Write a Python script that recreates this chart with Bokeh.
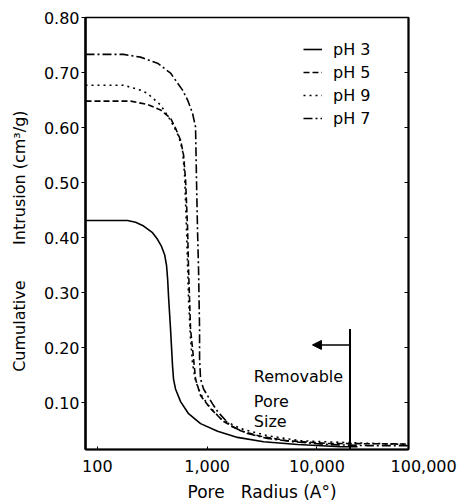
from bokeh.plotting import figure
from bokeh.models import (Range1d, FixedTicker, LinearAxis, Arrow, NormalHead, Label, Title,
                          Legend, LegendItem, CustomJSTickFormatter)
from bokeh.embed import file_html
from bokeh.resources import INLINE

FONT = "DejaVu Sans"

# ---- data (pore radius in Angstrom, cumulative intrusion cm3/g) ----
ph3_x = [78, 188, 223, 264, 318, 353, 384, 410, 427, 437, 445, 464, 484, 494, 515, 573, 677, 871, 1245, 1892, 3268, 6663, 16400, 23400]
ph3_y = [0.431, 0.431, 0.428, 0.421, 0.409, 0.397, 0.384, 0.369, 0.349, 0.324, 0.293, 0.234, 0.167, 0.143, 0.125, 0.102, 0.080, 0.062, 0.048, 0.037, 0.029, 0.024, 0.020, 0.020]

ph5_x = [78, 201, 286, 376, 464, 515, 573, 610, 636, 664, 677, 706, 752, 784, 835, 871, 1075, 1412, 2015, 3066, 5405, 12500, 68000]
ph5_y = [0.648, 0.648, 0.642, 0.632, 0.617, 0.599, 0.577, 0.550, 0.505, 0.415, 0.342, 0.234, 0.180, 0.143, 0.125, 0.113, 0.089, 0.066, 0.049, 0.039, 0.031, 0.026, 0.025]

ph9_x = [78, 173, 247, 286, 376, 445, 494, 548, 597, 623, 649, 677, 706, 736, 784, 871, 1030, 1325, 2015, 3550, 7000, 16400, 68000]
ph9_y = [0.677, 0.677, 0.668, 0.662, 0.641, 0.619, 0.603, 0.585, 0.559, 0.514, 0.415, 0.288, 0.216, 0.171, 0.140, 0.116, 0.095, 0.071, 0.053, 0.040, 0.031, 0.028, 0.024]

ph7_x = [78, 173, 247, 353, 464, 597, 664, 736, 784, 800, 817, 835, 853, 853, 871, 927, 1008, 1120, 1245, 1634, 2334, 3550, 6120, 12500, 28900, 68000]
ph7_y = [0.733, 0.733, 0.728, 0.717, 0.699, 0.668, 0.650, 0.626, 0.601, 0.505, 0.415, 0.342, 0.234, 0.180, 0.143, 0.125, 0.113, 0.098, 0.084, 0.058, 0.044, 0.035, 0.029, 0.024, 0.022, 0.022]

series_labels = ["pH 3", "pH 5", "pH 9", "pH 7"]

x_ticks = [100, 1000, 10000, 68000]
x_tick_labels = ["100", "1,000", "10,000", "\u00a0\u00a0\u00a0\u00a0\u00a0\u00a0100,000"]
y_ticks = [0.10, 0.20, 0.30, 0.40, 0.50, 0.60, 0.70, 0.80]
y_tick_labels = ["0.10", "0.20", "0.30", "0.40", "0.50", "0.60", "0.70", "0.80"]

removable_x = 20000
removable_top = 0.234
arrow_y = 0.205
arrow_tip_x = 9100
note_x = 2660
note_lines = ["Removable", "Pore", "Size"]
note_y = [0.147, 0.102, 0.066]

X_LO, X_HI = 78, 68200
Y_LO, Y_HI = 0.015, 0.80

p = figure(width=470, height=502, x_axis_type="log",
           x_range=Range1d(X_LO, X_HI), y_range=Range1d(Y_LO, Y_HI),
           output_backend="svg", toolbar_location=None,
           min_border_left=85, min_border_right=62, min_border_top=17, min_border_bottom=51)
p.grid.visible = False
p.background_fill_color = "white"
p.border_fill_color = "white"
p.outline_line_color = "black"
p.outline_line_width = 1.5

# x axis
xa = p.xaxis[0]
xa.ticker = FixedTicker(ticks=x_ticks, minor_ticks=[])
xa.major_label_overrides = dict(zip(x_ticks, x_tick_labels))
xa.axis_line_width = 2
xa.major_tick_in = 3
xa.major_tick_out = 0
xa.minor_tick_line_color = None
xa.major_label_standoff = 7
xa.major_label_text_font = FONT
xa.major_label_text_font_size = "16px"
xa.major_label_text_color = "black"

# y axis
ya = p.yaxis[0]
ya.ticker = FixedTicker(ticks=y_ticks, minor_ticks=[])
ya.major_label_overrides = dict(zip(y_ticks, y_tick_labels))
ya.axis_line_width = 2.5
ya.major_tick_in = 0
ya.major_tick_out = 4
ya.minor_tick_line_color = None
ya.major_label_standoff = 2
ya.major_label_text_font = FONT
ya.major_label_text_font_size = "16px"
ya.major_label_text_color = "black"
ya.axis_label = "Cumulative\u00a0\u00a0\u00a0\u00a0\u00a0\u00a0\u00a0Intrusion (cm\u00b3/g)\u00a0\u00a0\u00a0"
ya.axis_label_text_font = FONT
ya.axis_label_text_font_size = "16px"
ya.axis_label_text_font_style = "normal"
ya.axis_label_text_color = "black"
ya.axis_label_standoff = 12

# right axis with inward ticks only
ra = LinearAxis(ticker=FixedTicker(ticks=y_ticks, minor_ticks=[]),
                formatter=CustomJSTickFormatter(code="return ''"))
ra.axis_line_width = 2
ra.major_tick_in = 4
ra.major_tick_out = 0
ra.minor_tick_line_color = None
p.add_layout(ra, "right")

# x-axis title
p.add_layout(Title(text="Pore\u00a0\u00a0\u00a0Radius (A\u00b0)", align="left", offset=102,
                   text_font=FONT, text_font_size="17px", text_font_style="normal",
                   text_color="black", standoff=2), "below")

# curves
r3 = p.line(ph3_x, ph3_y, line_color="black", line_width=1.6)
r5 = p.line(ph5_x, ph5_y, line_color="black", line_width=1.6, line_dash="6 3")
r9 = p.line(ph9_x, ph9_y, line_color="black", line_width=1.6, line_dash="2 4")
r7 = p.line(ph7_x, ph7_y, line_color="black", line_width=1.6, line_dash="9 3 2 3")

legend = Legend(items=[LegendItem(label=l, renderers=[r]) for l, r in zip(series_labels, [r3, r5, r9, r7])],
                location=(218, 321), orientation="vertical")
legend.border_line_color = None
legend.background_fill_alpha = 0
legend.padding = 0
legend.margin = 0
legend.spacing = 3
legend.label_height = 20
legend.glyph_height = 20
legend.glyph_width = 19
legend.label_standoff = 11
legend.label_text_font = FONT
legend.label_text_font_size = "16px"
legend.label_text_color = "black"
p.add_layout(legend)

# removable pore size marker
p.segment(x0=[removable_x], y0=[Y_LO], x1=[removable_x], y1=[removable_top],
          line_color="black", line_width=2)
p.add_layout(Arrow(end=NormalHead(size=9, fill_color="black", line_color="black"),
                   x_start=removable_x, y_start=arrow_y, x_end=arrow_tip_x, y_end=arrow_y,
                   line_color="black", line_width=1.5))
for t, yy in zip(note_lines, note_y):
    p.add_layout(Label(x=note_x, y=yy, text=t, text_font=FONT, text_font_size="16px",
                       text_align="left", text_baseline="middle", text_color="black"))

open("out.html", "w").write(file_html(p, INLINE))
